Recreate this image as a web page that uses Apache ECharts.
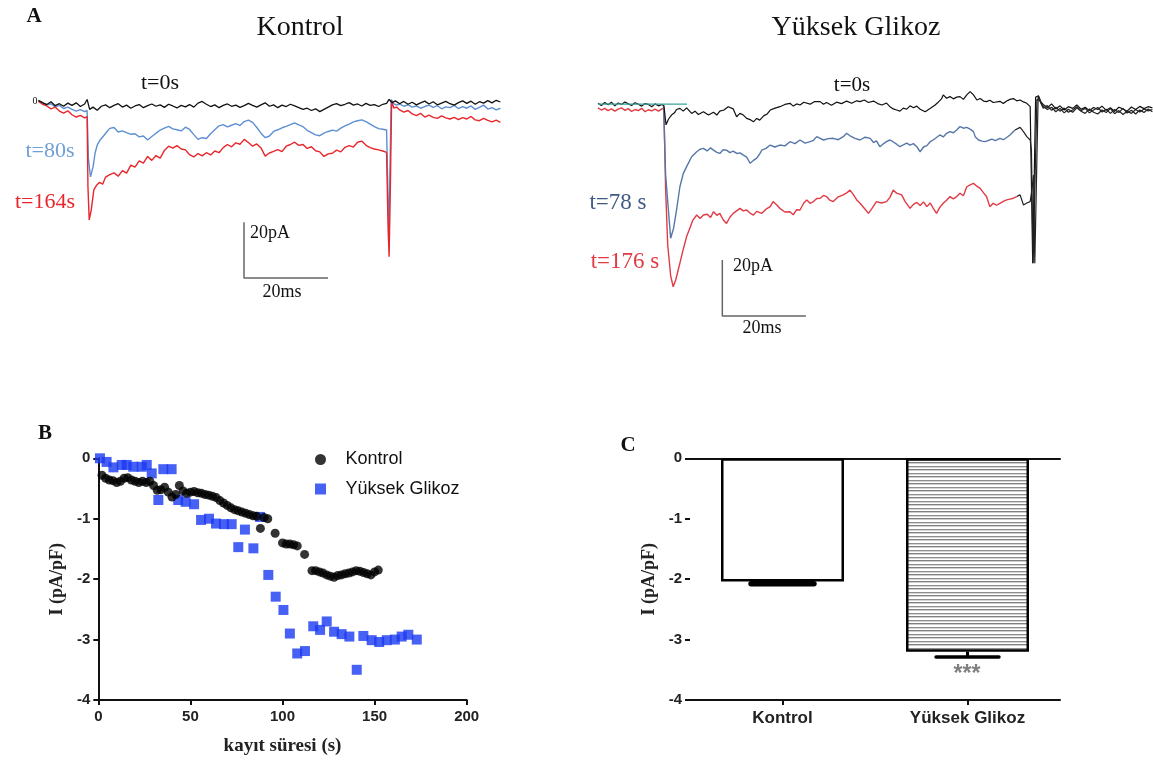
<!DOCTYPE html>
<html><head><meta charset="utf-8">
<script src="https://cdn.jsdelivr.net/npm/echarts/dist/echarts.min.js"></script>
<style>html,body{margin:0;padding:0;background:#fff}#c{width:1153px;height:762px}</style>
</head><body><div id="c"></div>
<script>
// ---------- Panel A (Kontrol): time (ms), current (pA) ----------
const ctrlBlack = [[2,0.6],[3,-0.2],[4,-0.9],[5,0.1],[6,-1.3],[7,-0.6],[8,-1.5],[9,-0.4],[10,-1.2],[11,-0.3],[12,-1.6],[13,-0.7],[13.6,0.9],[14.2,-2.6],[15,-1.8],[16,-2.9],[17,-1.5],[18,-1.0],[19,-2.0],[20,-1.2],[21,-0.6],[22,-1.8],[23,-1.1],[24,-2.2],[25,-1.4],[26,-0.9],[27,-2.0],[28,-1.3],[29,-0.7],[30,-1.5],[31,-1.0],[32,-1.9],[33,-0.8],[34,-1.4],[35,-2.1],[36,-1.2],[37,-1.7],[38,-0.9],[39,-1.8],[40,-0.4],[41,0.2],[42,-0.8],[43,-1.6],[44,-1.0],[45,-2.0],[46,-1.2],[47,-0.7],[48,-1.5],[49,-1.1],[50,-1.9],[51,-1.3],[52,-0.5],[53,-1.2],[54,-1.8],[55,-1.0],[56,-0.3],[57,-1.5],[58,-1.0],[59,-2.0],[60,-1.1],[61,-1.6],[62,-0.8],[63,-1.4],[64,-2.0],[65,-2.6],[66,-2.2],[67,-3.0],[68,-2.4],[69,-3.4],[70,-2.6],[71,-1.8],[72,-1.0],[73,-0.6],[74,-1.3],[75,-0.8],[76,-0.2],[77,-1.1],[78,-0.7],[79,-1.4],[80,-0.5],[81,-1.2],[82,-0.9],[83,-1.6],[84,-0.8],[84.9,-0.5],[85.5,0.9],[86.2,-0.2],[87,0.4],[88,-0.6],[89,0.2],[90,-0.8],[91,-0.1],[92,-1.0],[93,-0.3],[94,0.3],[95,-0.7],[96,0.1],[97,-1.0],[98,-0.4],[99,0.2],[100,-0.6],[101,-1.1],[102,-0.2],[103,0.4],[104,-0.5],[105,0.3],[106,-0.8],[107,0.1],[108,-0.4],[109,0.5],[110,-0.3],[111,0.6],[112,0.0]];
const ctrlBlue = [[2,0.4],[3,-0.3],[4,-1.0],[5,-0.6],[6,-1.7],[7,-1.2],[8,-2.3],[9,-1.8],[10,-2.6],[11,-3.2],[12,-2.7],[13,-3.4],[13.6,-3.0],[13.9,-20],[14.4,-26.4],[15,-23],[15.5,-18],[16,-15.2],[16.7,-13.4],[17.5,-12.0],[18.3,-10.5],[19,-9.3],[20,-9.0],[21,-10.6],[22,-10.2],[23,-10.8],[24,-11.4],[25,-11.2],[26,-12.3],[27,-12.0],[28,-13.4],[29,-12.2],[30,-11.0],[31,-9.9],[32,-9.2],[33,-8.6],[34,-9.5],[35,-9.8],[36,-10.2],[37,-8.9],[38,-9.7],[39,-11.5],[40,-13.2],[41,-12.6],[42,-12.9],[43,-11.2],[44,-9.8],[45,-8.4],[46,-8.0],[47,-8.8],[48,-8.2],[49,-7.6],[50,-8.3],[51,-6.9],[52,-6.4],[53,-7.2],[54,-9.0],[55,-11.0],[56,-12.6],[57,-12.0],[58,-10.4],[59,-9.8],[60,-9.1],[61,-8.6],[62,-8.0],[63,-7.4],[64,-8.1],[65,-8.7],[66,-10.0],[67,-10.8],[68,-11.6],[69,-11.9],[70,-11.0],[71,-10.4],[72,-9.9],[73,-10.3],[74,-9.2],[75,-8.4],[76,-7.8],[77,-7.0],[78,-6.6],[79,-6.3],[80,-6.9],[81,-7.8],[82,-8.7],[83,-9.4],[84,-9.6],[84.9,-9.9],[85.2,-30],[85.4,-51],[85.7,-25],[86,0.8],[86.6,-0.6],[87.3,-1.1],[88,-0.7],[89,-1.5],[90,-1.0],[91,-1.8],[92,-1.4],[93,-2.2],[94,-1.6],[95,-1.1],[96,-1.9],[97,-1.3],[98,-2.4],[99,-1.7],[100,-2.0],[101,-1.2],[102,-2.3],[103,-1.6],[104,-2.2],[105,-1.4],[106,-2.6],[107,-1.9],[108,-1.1],[109,-2.5],[110,-2.0],[111,-2.8],[112,-2.2]];
const ctrlRed = [[2,0.2],[3,-0.8],[4,-1.4],[5,-2.4],[6,-1.8],[7,-3.2],[8,-3.9],[9,-3.1],[10,-4.5],[11,-5.3],[12,-4.7],[13,-5.6],[13.6,-5.2],[13.8,-30],[14.1,-41.6],[14.6,-38],[15.2,-31],[15.8,-29.5],[16.5,-28.4],[17.3,-29],[18,-26.5],[19,-25.6],[20,-25.0],[21,-26.2],[22,-24.2],[23,-25.1],[24,-22.3],[25,-23.0],[26,-20.8],[27,-21.6],[28,-19.2],[29,-20.6],[30,-18.9],[31,-19.8],[32,-17.1],[33,-15.6],[34,-16.3],[35,-15.4],[36,-16.6],[37,-16.9],[38,-18.6],[39,-19.4],[40,-18.2],[41,-19.0],[42,-17.9],[43,-18.7],[44,-17.3],[45,-17.9],[46,-16.1],[47,-15.0],[48,-15.8],[49,-14.4],[50,-14.9],[51,-13.2],[52,-14.3],[53,-15.6],[54,-14.8],[55,-16.2],[56,-19.1],[57,-18.0],[58,-17.4],[59,-16.8],[60,-17.5],[61,-15.6],[62,-15.0],[63,-14.2],[64,-15.3],[65,-15.0],[66,-16.4],[67,-15.8],[68,-17.2],[69,-17.6],[70,-19.2],[71,-18.3],[72,-18.1],[73,-17.0],[74,-17.6],[75,-16.0],[76,-15.4],[77,-15.9],[78,-14.2],[79,-13.8],[80,-15.3],[81,-16.1],[82,-16.6],[83,-16.9],[84,-17.3],[84.9,-17.8],[85.2,-40],[85.5,-54.6],[85.8,-30],[86.1,0.5],[86.6,-2.1],[87.3,-1.8],[88,-2.8],[89,-3.6],[90,-3.0],[91,-4.2],[92,-4.8],[93,-4.0],[94,-5.3],[95,-4.6],[96,-5.4],[97,-5.8],[98,-4.9],[99,-5.6],[100,-6.0],[101,-5.4],[102,-6.2],[103,-5.5],[104,-6.0],[105,-5.1],[106,-6.3],[107,-6.6],[108,-5.8],[109,-6.5],[110,-7.0],[111,-6.4],[112,-7.2]];
const ctrlScaleBar = [[50.95,-42.4],[50.95,-62.1],[70.95,-62.1]];

// ---------- Panel A (Yüksek Glikoz): time (ms), current (pA) ----------
const hgBlack = [[0,0.6],[0.8,-0.2],[1.6,0.9],[2.4,0.1],[3.2,1.0],[4,-0.3],[4.8,0.7],[5.6,0.2],[6.4,1.1],[7.2,0.4],[8,-0.2],[8.8,0.8],[9.6,0.3],[10.4,-0.4],[11.2,0.5],[12,0.2],[12.8,-0.6],[13.6,0.4],[14.4,-0.3],[15.2,0.2],[15.7,-0.3],[16.2,-7.1],[16.8,-5.0],[17.5,-3.6],[18.2,-2.8],[18.7,-1.6],[19.5,-1.2],[20.3,-2.2],[21.1,-1.0],[22.3,-3.0],[23.1,-2.2],[23.9,-3.4],[25.1,-2.4],[26.3,-3.6],[27.5,-2.6],[28.3,-3.6],[29,-2.2],[30,-1.8],[31,-0.6],[32.2,-1.4],[33,-4.2],[33.8,-3.0],[34.6,-3.6],[35.4,-4.8],[36.2,-5.2],[37,-6.0],[37.8,-4.8],[38.5,-5.4],[39.5,-3.8],[40.3,-3.2],[41,-1.8],[42,-1.2],[43.3,-0.6],[44.5,0.2],[45.7,0.6],[46.5,-0.4],[47.3,0.4],[48.1,0.0],[49,1.0],[50.5,0.3],[51.5,1.2],[52.9,1.2],[53.7,0.3],[54.4,0.9],[55.6,-0.1],[56.8,1.0],[58,0.5],[59.2,1.4],[60.4,0.6],[61.6,1.5],[62.4,1.2],[63.4,1.8],[64.4,0.9],[65.6,1.4],[66.6,0.5],[67.6,0.0],[68.7,0.7],[69.5,-0.6],[70.3,-1.4],[71.1,-1.8],[71.9,-2.2],[72.7,-1.1],[73.5,-1.5],[74.3,-0.3],[75.1,-1.0],[75.9,-0.4],[76.7,-1.5],[77.9,-2.4],[78.7,-1.6],[79.5,-0.8],[80.2,-0.1],[81,1.0],[81.8,2.2],[82.2,3.6],[83,2.4],[83.8,3.0],[84.6,2.2],[85.4,2.8],[86.2,3.0],[87,2.0],[87.8,3.6],[88.6,4.8],[89.4,3.6],[90.2,1.8],[91,2.3],[91.8,1.4],[92.5,1.2],[93.3,1.7],[94.1,0.9],[95.7,1.3],[96.5,0.5],[97.3,1.4],[98.1,2.0],[98.9,2.3],[99.7,1.5],[100.5,1.8],[101.3,1.1],[102.1,0.6],[102.9,-0.6],[103.3,-1.2],[103.5,-56.5],[103.8,-56.5],[104.2,2.8],[104.9,3.2],[105.5,1.0],[106,0.2],[107,-1.0],[108,0.4],[109,-1.4],[110,-0.3],[111,-1.8],[112,-0.6],[113,-1.2],[114,0.0],[115,-1.5],[116,-0.8],[117,-2.0],[118,-0.9],[119,-1.6],[120,-0.4],[121,-1.9],[122,-1.0],[123,-2.3],[124,-0.8],[125,-1.4],[126,-2.2],[127,-0.7],[128,-1.6],[129,-0.5],[130,-1.3],[131,-0.6],[132,-1.0]];
const hgBlue = [[15.6,-0.3],[16.1,-25],[17.3,-47.6],[18,-44],[18.7,-37.5],[19.5,-29.2],[20.3,-24.5],[21.1,-22.0],[22.3,-18.5],[23.5,-16.7],[24.3,-15.8],[25.1,-15.5],[26,-16.4],[26.8,-15.3],[27.5,-16.1],[28.3,-16.9],[29,-17.3],[29.8,-16.0],[30.6,-16.1],[31.4,-17.0],[32.2,-16.5],[33,-17.3],[33.8,-17.1],[34.6,-17.9],[35.4,-18.6],[36.2,-20.8],[37,-19.8],[37.8,-19.0],[38.5,-17.5],[39,-16.1],[40,-15.5],[41,-14.3],[42.1,-15.0],[43.3,-14.3],[44.5,-14.6],[45.7,-13.1],[46.9,-13.8],[48.1,-12.5],[49.3,-13.6],[50.5,-13.1],[51.3,-12.6],[52.1,-11.3],[52.9,-11.9],[53.7,-12.5],[54.8,-12.0],[56,-11.9],[57.2,-12.4],[58.4,-11.3],[59.2,-10.1],[60,-11.0],[61.2,-11.9],[62.4,-12.5],[63.6,-11.5],[64.8,-11.9],[65.6,-13.4],[66.3,-12.8],[67.1,-14.9],[67.9,-13.9],[68.7,-13.1],[69.5,-12.5],[70.3,-13.2],[71.1,-14.0],[71.9,-14.9],[72.7,-14.2],[73.5,-13.6],[74.3,-14.3],[75.1,-13.8],[75.9,-14.9],[76.7,-16.7],[77.5,-15.0],[78.3,-14.5],[79.1,-13.1],[79.8,-12.5],[80.6,-11.6],[81.4,-10.7],[82.2,-11.4],[83,-10.1],[83.8,-9.5],[84.6,-9.9],[85.4,-8.9],[86.2,-7.7],[87,-8.3],[87.8,-8.0],[88.6,-8.6],[89.4,-9.5],[89.8,-11.3],[90.6,-12.5],[91.4,-12.9],[92.2,-13.1],[93,-12.6],[93.8,-12.2],[94.6,-12.7],[95.7,-11.9],[96.5,-12.4],[97.3,-11.6],[98.1,-10.7],[98.9,-9.5],[99.3,-8.9]];
const hgRed = [[0,-1.0],[0.8,-1.8],[1.6,-1.2],[2.4,-2.0],[3.2,-1.4],[4,-2.2],[4.8,-1.5],[5.6,-1.0],[6.4,-1.9],[7.2,-1.3],[8,-2.3],[8.8,-1.6],[9.6,-2.0],[10.4,-1.2],[11.2,-2.4],[12,-1.7],[12.8,-2.1],[13.6,-1.5],[14.4,-2.2],[15.2,-1.4],[15.7,-1.2],[16.1,-30],[16.6,-50],[17.3,-61],[17.9,-64.9],[18.5,-62.5],[19.5,-56.5],[20.3,-51.5],[21.1,-47.0],[22,-43.5],[22.6,-41.1],[23.5,-39.3],[24.3,-40.5],[25.1,-39.3],[26,-39.0],[26.8,-40.2],[27.5,-38.1],[28.3,-39.4],[29,-38.7],[29.8,-41.0],[30.6,-42.3],[31.4,-40.1],[32.2,-38.7],[33,-37.8],[33.8,-36.9],[34.6,-37.8],[35.4,-37.5],[36.2,-38.6],[37,-39.3],[37.8,-38.0],[39,-38.7],[40,-37.2],[41,-36.3],[41.7,-34.5],[42.5,-35.6],[43.3,-36.9],[44.5,-38.2],[45.7,-38.1],[46.5,-39.2],[47.3,-37.4],[48.1,-37.5],[49,-35.0],[49.7,-33.9],[50.5,-35.1],[51.3,-34.5],[52.1,-33.4],[52.9,-33.3],[53.7,-32.3],[54.4,-32.7],[55.2,-34.0],[56,-34.5],[57.2,-32.8],[58.4,-32.1],[59.2,-31.4],[60,-30.4],[60.8,-32.0],[61.6,-33.9],[62.4,-35.1],[63.2,-36.5],[64.4,-38.7],[65.2,-37.0],[66.3,-34.5],[67.5,-35.0],[68.7,-34.5],[69.5,-33.0],[70.3,-30.4],[71.1,-31.5],[72.3,-32.1],[73.1,-34.4],[74.3,-36.9],[75.1,-35.5],[75.9,-34.8],[76.7,-35.9],[77.5,-34.6],[78.3,-36.3],[79.1,-35.0],[79.8,-36.8],[80.6,-38.7],[81.4,-36.5],[82.2,-35.1],[83,-34.0],[83.8,-32.7],[84.6,-33.5],[85.4,-32.7],[86.2,-31.5],[87,-32.4],[87.8,-29.2],[88.6,-28.5],[89.4,-28.0],[90.2,-29.0],[91,-29.8],[91.8,-31.4],[92.5,-32.7],[93.3,-36.3],[94.1,-35.1],[94.9,-35.8],[95.7,-35.1],[96.5,-34.4],[97.3,-33.9],[98.1,-33.6],[98.9,-33.3],[99.7,-32.7]];
const hgBlueTail = [[99.3,-8.9],[99.7,-8.3],[100.5,-8.0],[101.3,-9.5],[102.1,-11.3],[102.9,-12.5],[103.2,-16.1],[103.6,-56.5],[104.0,-56.5],[104.5,2.0],[105.2,1.5],[106,-0.5],[107,-1.6],[108,-0.8],[109,-2.4],[110,-1.2],[111,-2.8],[112,-1.5],[113,-2.6],[114,-1.0],[115,-2.2],[116,-3.0],[117,-1.4],[118,-2.6],[119,-3.2],[120,-1.8],[121,-2.7],[122,-1.2],[123,-3.1],[124,-2.0],[125,-3.4],[126,-2.2],[127,-3.0],[128,-1.6],[129,-2.5],[130,-1.4],[131,-2.1],[132,-1.6]];
const hgRedTail = [[99.7,-32.7],[100.5,-32.1],[101.3,-35.7],[102.1,-35.0],[102.9,-34.5],[103.4,-29.2],[103.7,-25.0],[104.0,-56.5],[104.4,-56.5],[104.8,3.4],[105.4,0.8],[106,-1.2],[107,-0.2],[108,-1.9],[109,-0.8],[110,-2.2],[111,-1.1],[112,-2.6],[113,-1.8],[114,-0.6],[115,-2.0],[116,-1.2],[117,-2.8],[118,-1.8],[119,-0.9],[120,-2.5],[121,-1.5],[122,-3.0],[123,-1.6],[124,-2.7],[125,-1.2],[126,-2.9],[127,-1.9],[128,-3.2],[129,-1.8],[130,-2.7],[131,-1.4],[132,-2.4]];
const hgHolding = [[0,0.3],[21.2,0.3]];
const hgScaleBar = [[29.6,-55.4],[29.6,-75.4],[49.5,-75.4]];

// ---------- Panel B: recording time (s) vs I (pA/pF) ----------
const kontrolB = [[2,-0.28],[4,-0.33],[6,-0.36],[8,-0.37],[10,-0.40],[12,-0.38],[14,-0.33],[16,-0.32],[18,-0.36],[20,-0.38],[22,-0.40],[24,-0.38],[26,-0.40],[28,-0.38],[30,-0.45],[32,-0.53],[34,-0.52],[36,-0.48],[38,-0.56],[40,-0.64],[42,-0.60],[44,-0.45],[46,-0.54],[48,-0.58],[50,-0.56],[52,-0.55],[54,-0.57],[56,-0.58],[58,-0.60],[60,-0.61],[62,-0.63],[64,-0.65],[66,-0.70],[68,-0.74],[70,-0.78],[72,-0.82],[74,-0.85],[76,-0.87],[78,-0.89],[80,-0.91],[82,-0.93],[84,-0.95],[86,-0.96],[88,-1.16],[90,-0.98],[92,-1.00],[96,-1.24],[100,-1.40],[102,-1.42],[104,-1.42],[106,-1.43],[108,-1.45],[112,-1.59],[116,-1.86],[118,-1.86],[120,-1.88],[122,-1.90],[124,-1.93],[126,-1.95],[128,-1.97],[130,-1.94],[132,-1.93],[134,-1.91],[136,-1.90],[138,-1.88],[140,-1.86],[142,-1.87],[144,-1.89],[146,-1.91],[148,-1.93],[150,-1.88],[152,-1.85]];
const glikozB = [[0.9,0],[4.5,-0.06],[8.2,-0.15],[12.7,-0.11],[15.4,-0.11],[19,-0.14],[23.6,-0.14],[26.3,-0.11],[29,-0.25],[32.6,-0.69],[35.3,-0.18],[39.8,-0.18],[43.4,-0.69],[47.4,-0.72],[52,-0.76],[55.8,-1.02],[60.1,-1.0],[63.9,-1.08],[68.2,-1.09],[72.4,-1.09],[76,-1.47],[79.6,-1.18],[84.2,-1.49],[87.8,-0.97],[92.3,-1.93],[96.3,-2.29],[100.5,-2.51],[104,-2.90],[108,-3.23],[112.2,-3.19],[116.7,-2.78],[120.4,-2.84],[124,-2.70],[128,-2.87],[132.1,-2.91],[136.3,-2.95],[140.3,-3.50],[143.9,-2.94],[148.4,-3.01],[152.5,-3.04],[156.6,-3.01],[161,-3.0],[164.7,-2.95],[168.3,-2.92],[172.9,-3.0]];
const xTicksB = [0, 50, 100, 150, 200];
const yTicks = [0, -1, -2, -3, -4];

// ---------- Panel C: mean ± SEM ----------
const groupsC = ['Kontrol', 'Yüksek Glikoz'];
const meansC = [-2.04, -3.20];
const semsC = [0.035, 0.09];

// ---------- styling ----------
const SERIF = '"Liberation Serif","DejaVu Serif",serif';
const SANS = '"Liberation Sans",Arial,sans-serif';

const pc = document.createElement('canvas');
pc.width = 8; pc.height = 7;
const g = pc.getContext('2d');
g.fillStyle = '#ffffff'; g.fillRect(0, 0, 8, 7);
g.fillStyle = '#808080'; g.fillRect(0, 0, 8, 1);
g.fillStyle = '#cfcfcf'; g.fillRect(0, 1, 8, 1);
g.fillStyle = '#8e8e8e'; g.fillRect(0, 4, 8, 1);
g.fillStyle = '#d6d6d6'; g.fillRect(0, 5, 8, 1);

function trace(data, color, xi, w, z) {
  return { type: 'line', xAxisIndex: xi, yAxisIndex: xi, data: data, showSymbol: false, symbol: 'none',
    lineStyle: { color: color, width: w || 1.3 }, z: z || 2, silent: true };
}
function txt(t, x, y, size, color, font, weight) {
  return { type: 'text', x: x, y: y, silent: true,
    style: { text: t, fill: color, font: (weight || 'normal') + ' ' + size + 'px ' + (font || SERIF),
      textAlign: 'center', textVerticalAlign: 'middle', align: 'center', verticalAlign: 'middle' } };
}
const axLine = { lineStyle: { color: '#111', width: 2 } };
const axTick = { show: true, length: 5, lineStyle: { color: '#111', width: 2 } };
const axLabel = { fontFamily: SANS, fontWeight: 'bold', fontSize: 15, color: '#222' };

const hidden = { show: false };
const option = {
  animation: false,
  backgroundColor: '#fff',
  grid: [
    { left: 30, top: 73.67, width: 504, height: 226.67 },
    { left: 598, top: 77, width: 554.4, height: 252 },
    { left: 98.3, top: 458.3, width: 368.4, height: 241.7 },
    { left: 690, top: 458.3, width: 370, height: 241.7 }
  ],
  xAxis: [
    { gridIndex: 0, type: 'value', min: 0, max: 120, show: false },
    { gridIndex: 1, type: 'value', min: 0, max: 132, show: false },
    { gridIndex: 2, type: 'value', min: xTicksB[0], max: xTicksB[xTicksB.length - 1], interval: 50,
      axisLine: Object.assign({ onZero: false }, axLine), axisTick: axTick, splitLine: hidden,
      axisLabel: Object.assign({ margin: 9 }, axLabel),
      name: 'kayıt süresi (s)', nameLocation: 'middle', nameGap: 37,
      nameTextStyle: { fontFamily: SERIF, fontWeight: 'bold', fontSize: 19, color: '#222' } },
    { gridIndex: 3, type: 'category', data: groupsC, position: 'bottom',
      axisLine: Object.assign({ onZero: false }, axLine),
      axisTick: Object.assign({ alignWithLabel: true }, axTick),
      axisLabel: Object.assign({ margin: 10 }, axLabel, { fontSize: 17 }) },
    { gridIndex: 3, type: 'category', data: groupsC, position: 'top',
      axisLine: Object.assign({ onZero: false }, axLine), axisTick: hidden, axisLabel: hidden }
  ],
  yAxis: [
    { gridIndex: 0, type: 'value', min: -70, max: 10, show: false },
    { gridIndex: 1, type: 'value', min: -80, max: 10, show: false },
    { gridIndex: 2, type: 'value', min: yTicks[4], max: yTicks[0], interval: 1,
      axisLine: Object.assign({ onZero: false }, axLine), axisTick: axTick, splitLine: hidden,
      axisLabel: Object.assign({ margin: 8 }, axLabel),
      name: 'I (pA/pF)', nameLocation: 'middle', nameGap: 32,
      nameTextStyle: { fontFamily: SERIF, fontWeight: 'bold', fontSize: 18, color: '#222' } },
    { gridIndex: 3, type: 'value', min: yTicks[4], max: yTicks[0], interval: 1,
      axisLine: Object.assign({ onZero: false }, axLine), axisTick: axTick, splitLine: hidden,
      axisLabel: Object.assign({ margin: 8 }, axLabel),
      name: 'I (pA/pF)', nameLocation: 'middle', nameGap: 32,
      nameTextStyle: { fontFamily: SERIF, fontWeight: 'bold', fontSize: 18, color: '#222' } }
  ],
  legend: {
    orient: 'vertical', left: 310, top: 445.5, itemWidth: 40, itemHeight: 11, itemGap: 11.5,
    symbolKeepAspect: true,
    textStyle: { fontFamily: SANS, fontSize: 18, color: '#111', lineHeight: 17 },
    data: [{ name: 'Kontrol', icon: 'circle' }, { name: 'Yüksek Glikoz', icon: 'path://M0,0L10,0L10,10L0,10Z' }],
    selectedMode: false
  },
  series: [
    trace(ctrlBlue, '#5d8fd2', 0, 1.4, 2),
    trace(ctrlRed, '#e8262b', 0, 1.4, 3),
    trace(ctrlBlack, '#111', 0, 1.3, 4),
    trace(ctrlScaleBar, '#666', 0, 1.5, 1),
    trace(hgHolding, '#3aa39a', 1, 1.2, 5),
    trace(hgRed, '#e23a44', 1, 1.4, 3),
    trace(hgBlue, '#5577a8', 1, 1.4, 3),
    trace(hgBlack, '#111', 1, 1.2, 4),
    trace(hgBlueTail, '#222', 1, 1.2, 4),
    trace(hgRedTail, '#222', 1, 1.2, 4),
    trace(hgScaleBar, '#666', 1, 1.5, 1),
    { name: 'Kontrol', type: 'scatter', xAxisIndex: 2, yAxisIndex: 2, data: kontrolB,
      symbol: 'circle', symbolSize: 9, itemStyle: { color: '#000' }, z: 3 },
    { name: 'Yüksek Glikoz', type: 'scatter', xAxisIndex: 2, yAxisIndex: 2, data: glikozB,
      symbol: 'rect', symbolSize: 10, itemStyle: { color: '#1a3af2' }, z: 2 },
    { name: 'bars', type: 'bar', xAxisIndex: 3, yAxisIndex: 3, barWidth: 123,
      data: meansC.map(function (v, i) {
        return { value: v, itemStyle: { color: i === 0 ? '#ffffff' : { image: pc, repeat: 'repeat' },
          borderColor: '#000', borderWidth: 2.5 } };
      }), z: 2 },
    { name: 'sem', type: 'custom', xAxisIndex: 3, yAxisIndex: 3, z: 4,
      data: meansC.map(function (v, i) { return [i, v, semsC[i]]; }),
      encode: { x: 0, y: 1 },
      renderItem: function (params, api) {
        var x = api.value(0), m = api.value(1), s = api.value(2);
        var a = api.coord([x, m]), b = api.coord([x, m - s]);
        var hw = api.size([1, 0])[0] * 0.17;
        var capW = params.dataIndex === 0 ? 5.5 : 3.5;
        return { type: 'group', children: [
          { type: 'line', shape: { x1: a[0], y1: a[1], x2: b[0], y2: b[1] }, style: { stroke: '#000', lineWidth: 3 } },
          { type: 'line', shape: { x1: b[0] - hw, y1: b[1], x2: b[0] + hw, y2: b[1] }, style: { stroke: '#000', lineWidth: capW, lineCap: 'round' } }
        ] };
      } }
  ],
  graphic: [
    txt('A', 34, 17, 21, '#111', SERIF, 'bold'),
    txt('Kontrol', 300, 28, 28, '#111'),
    txt('Yüksek Glikoz', 856, 28, 28, '#111'),
    txt('t=0s', 160, 83, 22, '#111'),
    txt('t=80s', 50, 151, 22, '#6f9fd8'),
    txt('t=164s', 45, 202, 22, '#e8262b'),
    txt('0', 35, 101, 10, '#111'),
    txt('20pA', 270, 233, 18, '#111'),
    txt('20ms', 282, 292, 18, '#111'),
    txt('t=0s', 852, 85, 21, '#111'),
    txt('t=78 s', 618, 203, 23, '#3f5a85'),
    txt('t=176 s', 625, 262, 23, '#e23a44'),
    txt('20pA', 753, 266, 18, '#111'),
    txt('20ms', 762, 328, 18, '#111'),
    txt('B', 45, 434, 21, '#111', SERIF, 'bold'),
    txt('C', 628, 446, 21, '#111', SERIF, 'bold'),
    txt('***', 967, 675, 23, '#808080', SANS, 'bold')
  ]
};
const chart = echarts.init(document.getElementById('c'), null, { renderer: 'canvas' });
chart.setOption(option);
</script></body></html>
